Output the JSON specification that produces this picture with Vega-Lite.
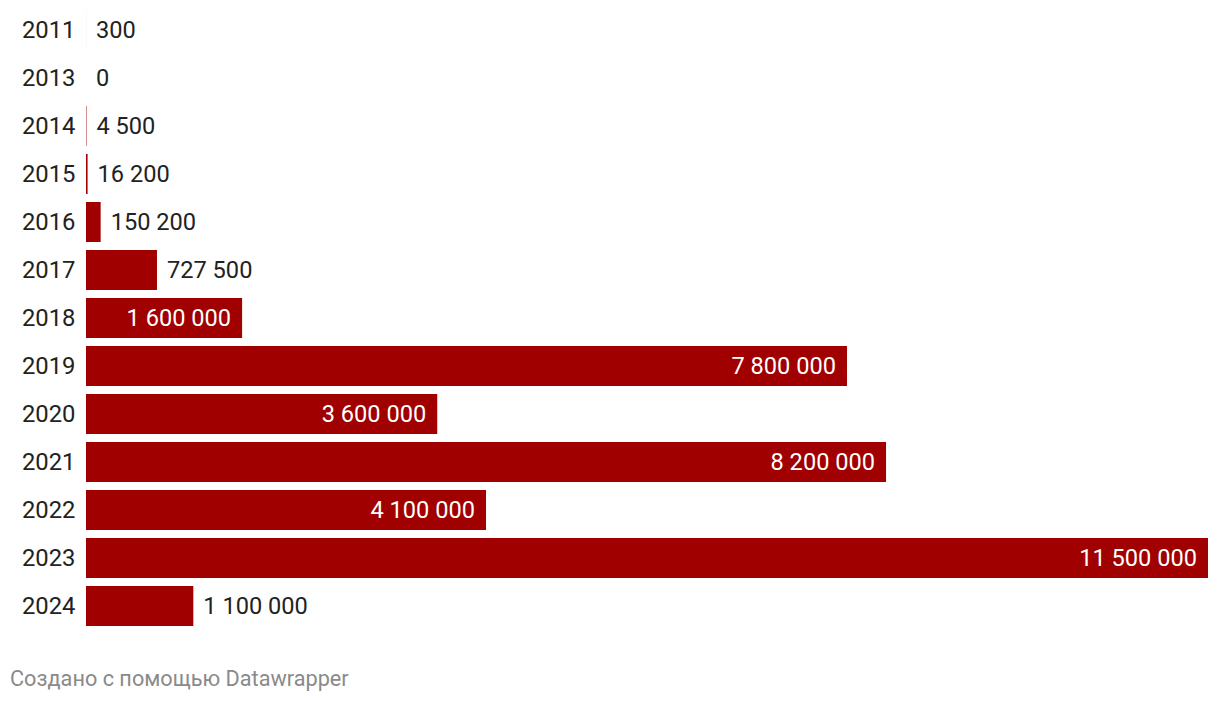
{
  "$schema": "https://vega.github.io/schema/vega-lite/v6.json",
  "width": 1122,
  "height": 624,
  "autosize": {"type": "none"},
  "padding": {"left": 86, "top": 6, "right": 12, "bottom": 72},
  "background": "#ffffff",
  "config": {
    "view": {"stroke": null},
    "font": "Roboto",
    "locale": {"number": {"decimal": ",", "thousands": " ", "grouping": [3], "currency": ["", ""]}}
  },
  "title": {
    "text": "Создано с помощью Datawrapper",
    "orient": "bottom",
    "anchor": "start",
    "frame": "group",
    "dx": -76,
    "offset": 39,
    "font": "Roboto",
    "fontSize": 21.7,
    "fontWeight": "normal",
    "color": "#8a8a8a",
    "baseline": "top"
  },
  "data": {
    "values": [
      {"year": "2011", "value": 300},
      {"year": "2013", "value": 0},
      {"year": "2014", "value": 4500},
      {"year": "2015", "value": 16200},
      {"year": "2016", "value": 150200},
      {"year": "2017", "value": 727500},
      {"year": "2018", "value": 1600000},
      {"year": "2019", "value": 7800000},
      {"year": "2020", "value": 3600000},
      {"year": "2021", "value": 8200000},
      {"year": "2022", "value": 4100000},
      {"year": "2023", "value": 11500000},
      {"year": "2024", "value": 1100000}
    ]
  },
  "encoding": {
    "y": {
      "field": "year",
      "type": "nominal",
      "sort": null,
      "scale": {"paddingInner": 0.1667, "paddingOuter": 0.0833},
      "axis": {
        "title": null,
        "domain": false,
        "ticks": false,
        "labelPadding": 11,
        "labelOffset": 1,
        "labelFont": "Roboto",
        "labelFontSize": 23.8,
        "labelColor": "#222222"
      }
    },
    "x": {
      "field": "value",
      "type": "quantitative",
      "scale": {"domain": [0, 11500000], "nice": false, "zero": true},
      "axis": null
    }
  },
  "layer": [
    {"mark": {"type": "bar", "color": "#a00000"}},
    {
      "transform": [{"filter": "datum.value >= 1300000"}],
      "mark": {"type": "text", "align": "right", "baseline": "middle", "dx": -11, "dy": 1, "fontSize": 23.6, "color": "#ffffff", "font": "Roboto"},
      "encoding": {"text": {"field": "value", "type": "quantitative", "format": ",d"}}
    },
    {
      "transform": [{"filter": "datum.value < 1300000"}],
      "mark": {"type": "text", "align": "left", "baseline": "middle", "dx": 10, "dy": 1, "fontSize": 23.6, "color": "#222222", "font": "Roboto"},
      "encoding": {"text": {"field": "value", "type": "quantitative", "format": ",d"}}
    }
  ]
}
